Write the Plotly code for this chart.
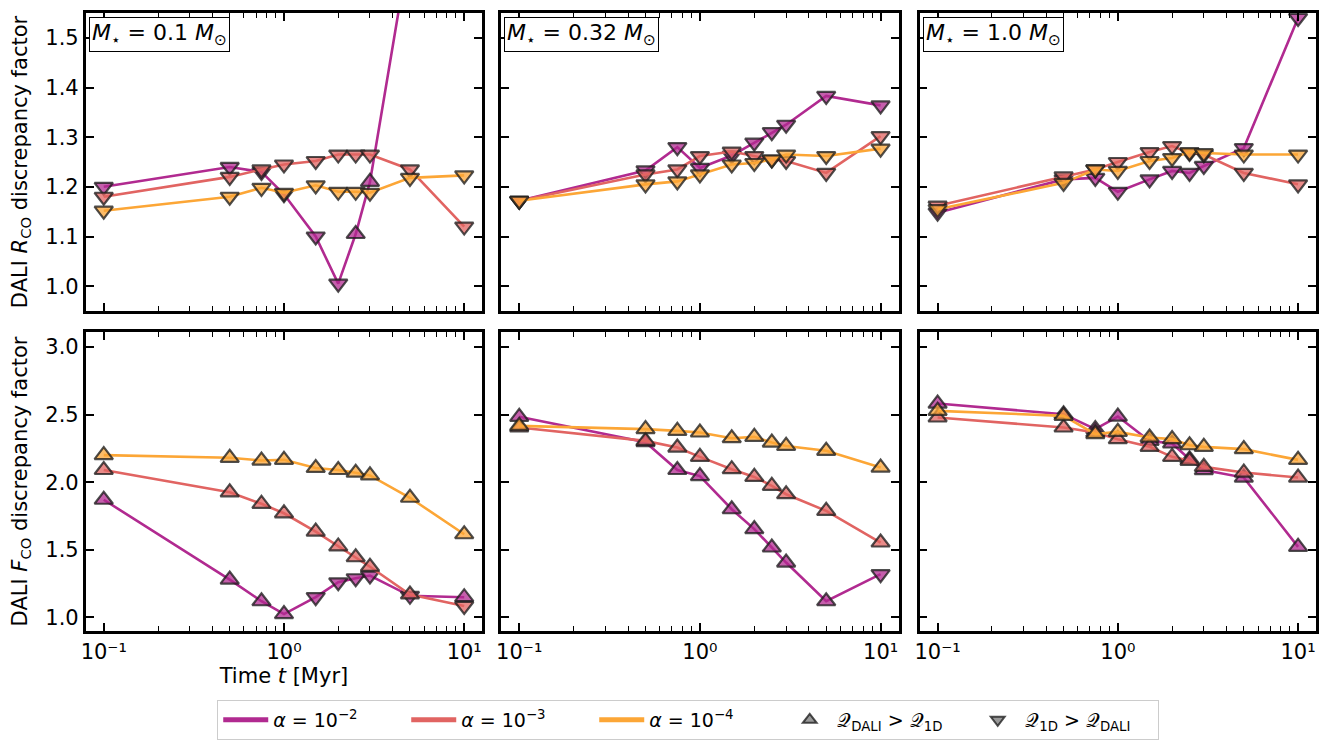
import plotly.graph_objects as go

# ---------------- data ----------------
times = [0.1, 0.5, 0.75, 1.0, 1.5, 2.0, 2.5, 3.0, 5.0, 10.0]
alpha_labels = ["<i>α</i> = 10<sup>−2</sup>", "<i>α</i> = 10<sup>−3</sup>", "<i>α</i> = 10<sup>−4</sup>"]
mass_labels = ["0.1", "0.32", "1.0"]
x_major_ticks = [0.1, 1, 10]
x_major_text = ["10⁻¹", "10⁰", "10¹"]
x_minor_ticks = [0.2, 0.3, 0.4, 0.5, 0.6, 0.7, 0.8, 0.9, 2, 3, 4, 5, 6, 7, 8, 9]
y_ticks_top = [1.0, 1.1, 1.2, 1.3, 1.4, 1.5]
y_ticks_bottom = [1.0, 1.5, 2.0, 2.5, 3.0]

# R_CO discrepancy factor (top row), one list per alpha per stellar mass
rco_m01_a2 = [1.20, 1.24, 1.23, 1.185, 1.10, 1.005, 1.105, 1.21, 1.69, 1.85]
rco_m01_a3 = [1.18, 1.22, 1.235, 1.245, 1.252, 1.265, 1.265, 1.265, 1.235, 1.12]
rco_m01_a4 = [1.152, 1.18, 1.198, 1.188, 1.203, 1.19, 1.19, 1.188, 1.218, 1.223]
rco_m032_a2 = [1.172, 1.233, 1.28, 1.238, 1.263, 1.289, 1.31, 1.325, 1.383, 1.364]
rco_m032_a3 = [1.172, 1.225, 1.235, 1.262, 1.271, 1.262, 1.255, 1.252, 1.228, 1.302]
rco_m032_a4 = [1.172, 1.205, 1.211, 1.225, 1.245, 1.248, 1.255, 1.265, 1.262, 1.277]
rco_m1_a2 = [1.148, 1.215, 1.218, 1.19, 1.215, 1.232, 1.228, 1.242, 1.278, 1.54]
rco_m1_a3 = [1.162, 1.221, 1.235, 1.25, 1.27, 1.282, 1.268, 1.265, 1.228, 1.205]
rco_m1_a4 = [1.155, 1.208, 1.235, 1.232, 1.252, 1.258, 1.27, 1.268, 1.265, 1.265]

# F_CO discrepancy factor (bottom row)
fco_m01_a2 = [1.87, 1.28, 1.12, 1.025, 1.15, 1.26, 1.29, 1.31, 1.16, 1.15]
fco_m01_a3 = [2.09, 1.925, 1.84, 1.77, 1.635, 1.525, 1.445, 1.375, 1.17, 1.085]
fco_m01_a4 = [2.20, 2.18, 2.16, 2.165, 2.105, 2.09, 2.07, 2.05, 1.885, 1.615]
fco_m032_a2 = [2.483, 2.295, 2.09, 2.045, 1.80, 1.653, 1.517, 1.406, 1.12, 1.32]
fco_m032_a3 = [2.404, 2.305, 2.256, 2.187, 2.096, 2.039, 1.973, 1.911, 1.788, 1.554]
fco_m032_a4 = [2.416, 2.392, 2.379, 2.367, 2.325, 2.335, 2.293, 2.268, 2.232, 2.108]
fco_m1_a2 = [2.581, 2.502, 2.392, 2.485, 2.305, 2.286, 2.17, 2.089, 2.034, 1.522]
fco_m1_a3 = [2.478, 2.404, 2.367, 2.318, 2.261, 2.187, 2.158, 2.113, 2.071, 2.034]
fco_m1_a4 = [2.527, 2.49, 2.355, 2.372, 2.33, 2.318, 2.273, 2.261, 2.244, 2.165]

# which quantity is larger: "u" = Q_DALI > Q_1D (up triangle), "d" = Q_1D > Q_DALI (down)
dir_rco_m01_a2 = ["d", "d", "d", "d", "d", "d", "u", "u", "d", "d"]
dir_fco_m01_a2 = ["u", "u", "u", "u", "d", "d", "d", "d", "d", "u"]
dir_fco_m01_a3 = ["u", "u", "u", "u", "u", "u", "u", "u", "u", "d"]
dir_fco_m032_a2 = ["u", "u", "u", "u", "u", "u", "u", "u", "u", "d"]
all_down = ["d"] * 10
all_up = ["u"] * 10

panels = [
    [(rco_m01_a2, dir_rco_m01_a2), (rco_m01_a3, all_down), (rco_m01_a4, all_down)],
    [(rco_m032_a2, all_down), (rco_m032_a3, all_down), (rco_m032_a4, all_down)],
    [(rco_m1_a2, all_down), (rco_m1_a3, all_down), (rco_m1_a4, all_down)],
    [(fco_m01_a2, dir_fco_m01_a2), (fco_m01_a3, dir_fco_m01_a3), (fco_m01_a4, all_up)],
    [(fco_m032_a2, dir_fco_m032_a2), (fco_m032_a3, all_up), (fco_m032_a4, all_up)],
    [(fco_m1_a2, all_up), (fco_m1_a3, all_up), (fco_m1_a4, all_up)],
]

# ---------------- style ----------------
colors = ["#b12a90", "#e16462", "#fca636"]
fills = ["rgba(177,42,144,0.75)", "rgba(225,100,98,0.75)", "rgba(252,166,54,0.75)"]
edge = "rgba(30,30,30,0.78)"
FONT = "DejaVu Sans"
FS = 21
W, H = 1332, 742

col_px = [(73, 471), (490, 889), (910, 1308)]
row_px = [(5, 303), (324, 623)]

fig = go.Figure()
sym = {"u": "triangle-up", "d": "triangle-down"}

for i, series in enumerate(panels):
    n = i + 1
    xa = "x" if n == 1 else f"x{n}"
    ya = "y" if n == 1 else f"y{n}"
    for k, (vals, dirs) in enumerate(series):
        fig.add_trace(go.Scatter(
            x=times, y=vals, xaxis=xa, yaxis=ya, mode="lines+markers",
            line=dict(color=colors[k], width=2.6),
            marker=dict(symbol=[sym[d] for d in dirs], size=16, color=fills[k],
                        line=dict(color=edge, width=2.2)),
            showlegend=False, hoverinfo="skip"))

# legend entries
for k in range(3):
    fig.add_trace(go.Scatter(x=[None], y=[None], mode="lines", name=alpha_labels[k],
                             line=dict(color=colors[k], width=4), showlegend=True))
fig.add_trace(go.Scatter(x=[None], y=[None], mode="markers",
                         name="𝒬<sub>DALI</sub> > 𝒬<sub>1D</sub>",
                         marker=dict(symbol="triangle-up", size=15, color="rgba(128,128,128,0.8)",
                                     line=dict(color=edge, width=1.5)), showlegend=True))
fig.add_trace(go.Scatter(x=[None], y=[None], mode="markers",
                         name="𝒬<sub>1D</sub> > 𝒬<sub>DALI</sub>",
                         marker=dict(symbol="triangle-down", size=15, color="rgba(128,128,128,0.8)",
                                     line=dict(color=edge, width=1.5)), showlegend=True))

layout = {}
for i in range(6):
    n = i + 1
    r, c = divmod(i, 3)
    x0, x1 = col_px[c]
    y0, y1 = row_px[r]
    xkey = "xaxis" if n == 1 else f"xaxis{n}"
    ykey = "yaxis" if n == 1 else f"yaxis{n}"
    ya_name = "y" if n == 1 else f"y{n}"
    xa_name = "x" if n == 1 else f"x{n}"
    layout[xkey] = dict(
        domain=[x0 / W, x1 / W], anchor=ya_name, type="log", range=[-1.1, 1.1],
        tickmode="array", tickvals=x_major_ticks, ticktext=x_major_text,
        ticks="inside", ticklen=8, tickwidth=1.8, tickcolor="black",
        showline=True, linewidth=2.6, linecolor="black", mirror="ticks",
        showgrid=False, zeroline=False,
        showticklabels=(r == 1),
        tickfont=dict(family=FONT, size=FS, color="black"),
        minor=dict(tickmode="array", tickvals=x_minor_ticks, ticks="inside",
                   ticklen=5, tickwidth=1.4, tickcolor="black", showgrid=False),
    )
    if r == 1 and c == 0:
        layout[xkey]["title"] = dict(text="Time <i>t</i> [Myr]",
                                     font=dict(family=FONT, size=FS, color="black"),
                                     standoff=4)
    if r == 0:
        yr = [0.95, 1.55]
        tv = y_ticks_top
    else:
        yr = [0.9, 3.11]
        tv = y_ticks_bottom
    layout[ykey] = dict(
        domain=[1 - y1 / H, 1 - y0 / H], anchor=xa_name, range=yr,
        tickmode="array", tickvals=tv, tickformat=".1f",
        ticks="inside", ticklen=8, tickwidth=1.8, tickcolor="black",
        showline=True, linewidth=2.6, linecolor="black", mirror="ticks",
        showgrid=False, zeroline=False,
        showticklabels=(c == 0),
        tickfont=dict(family=FONT, size=FS, color="black"),
    )
    if c == 0:
        txt = "DALI <i>R</i><sub>CO</sub> discrepancy factor" if r == 0 else \
              "DALI <i>F</i><sub>CO</sub> discrepancy factor"
        layout[ykey]["title"] = dict(text=txt, font=dict(family=FONT, size=FS, color="black"),
                                     standoff=13)

annotations = []
for c in range(3):
    n = c + 1
    annotations.append(dict(
        text=f"<i>M</i><sub>⋆</sub> = {mass_labels[c]} <i>M</i><sub>⊙</sub>",
        xref=("x" if n == 1 else f"x{n}") + " domain",
        yref=("y" if n == 1 else f"y{n}") + " domain",
        x=0.008, y=0.986, xanchor="left", yanchor="top", showarrow=False,
        font=dict(family=FONT, size=22, color="black"),
        bordercolor="black", borderwidth=1, borderpad=2, bgcolor="white"))

fig.update_layout(
    **layout,
    annotations=annotations,
    width=W, height=H,
    margin=dict(l=0, r=0, t=0, b=0),
    paper_bgcolor="white", plot_bgcolor="white",
    font=dict(family=FONT, size=FS, color="black"),
    showlegend=True,
    legend=dict(orientation="h", x=205 / W, y=1 - 692 / H, xanchor="left", yanchor="top",
                bgcolor="white", bordercolor="#cccccc", borderwidth=1,
                font=dict(family=FONT, size=19, color="black"),
                itemwidth=45, entrywidth=128, entrywidthmode="pixels",
                tracegroupgap=0, itemsizing="constant"),
)

fig.write_html("out.html")
